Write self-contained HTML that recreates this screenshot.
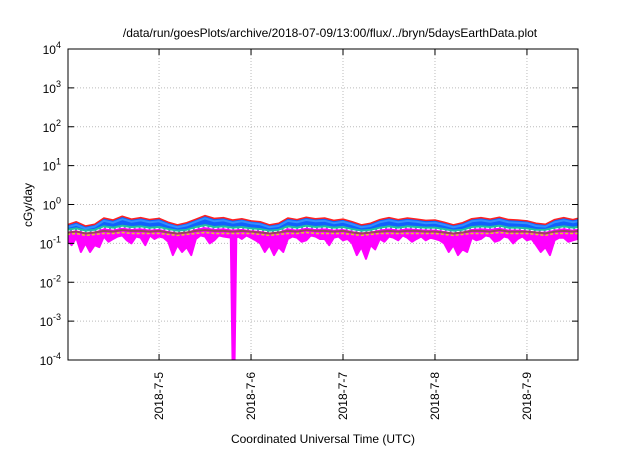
<!DOCTYPE html>
<html><head><meta charset="utf-8"><style>
body{margin:0;background:#fff;}
svg{font-family:"Liberation Sans",sans-serif;}
</style></head><body>
<svg id="chart" width="640" height="448" viewBox="0 0 640 448" xmlns="http://www.w3.org/2000/svg">
<text x="330" y="37" font-size="12" text-anchor="middle">/data/run/goesPlots/archive/2018-07-09/13:00/flux/../bryn/5daysEarthData.plot</text>
<g id="grid"></g>
<g id="series"></g>
<rect x="68" y="49" width="510" height="311" fill="none" stroke="#000" stroke-width="1"/>
<g id="axes"></g>
<text transform="translate(32,205) rotate(-90)" font-size="12" text-anchor="middle">cGy/day</text>
<text x="323" y="443" font-size="12" text-anchor="middle">Coordinated Universal Time (UTC)</text>
</svg>
<script>
const xTickVals=[5,6,7,8,9];
const xTickLabels=["2018-7-5","2018-7-6","2018-7-7","2018-7-8","2018-7-9"];
const yTickExps=[-4,-3,-2,-1,0,1,2,3,4];
const times=[4.0,4.1,4.2,4.3,4.4,4.5,4.6,4.7,4.8,4.9,5.0,5.1,5.2,5.3,5.4,5.5,5.6,5.7,5.8,5.9,6.0,6.1,6.2,6.3,6.4,6.5,6.6,6.7,6.8,6.9,7.0,7.1,7.2,7.3,7.4,7.5,7.6,7.7,7.8,7.9,8.0,8.1,8.2,8.3,8.4,8.5,8.6,8.7,8.8,8.9,9.0,9.1,9.2,9.3,9.4,9.5,9.55];
const redV=[0.30,0.36,0.28,0.31,0.45,0.40,0.50,0.42,0.46,0.41,0.44,0.35,0.30,0.34,0.42,0.52,0.44,0.46,0.40,0.43,0.38,0.36,0.30,0.33,0.45,0.41,0.47,0.43,0.45,0.39,0.42,0.36,0.30,0.33,0.41,0.46,0.41,0.45,0.42,0.39,0.40,0.35,0.30,0.34,0.43,0.46,0.42,0.47,0.41,0.40,0.38,0.33,0.31,0.41,0.46,0.41,0.44];
const blueV=[0.26,0.30,0.24,0.27,0.38,0.34,0.42,0.36,0.39,0.35,0.37,0.30,0.26,0.29,0.36,0.44,0.37,0.39,0.34,0.37,0.33,0.31,0.26,0.28,0.38,0.35,0.40,0.37,0.38,0.33,0.36,0.31,0.26,0.28,0.35,0.39,0.35,0.38,0.36,0.33,0.34,0.30,0.26,0.29,0.37,0.39,0.36,0.40,0.35,0.34,0.33,0.28,0.27,0.35,0.39,0.35,0.37];
const tealV=[0.22,0.24,0.21,0.22,0.27,0.25,0.28,0.26,0.27,0.25,0.26,0.23,0.21,0.22,0.26,0.29,0.26,0.27,0.25,0.26,0.24,0.23,0.21,0.22,0.27,0.25,0.28,0.26,0.27,0.25,0.26,0.23,0.21,0.22,0.25,0.27,0.25,0.27,0.26,0.25,0.25,0.23,0.21,0.22,0.26,0.27,0.26,0.28,0.25,0.25,0.24,0.22,0.22,0.25,0.27,0.25,0.26];
const brownV=[0.19,0.20,0.18,0.19,0.21,0.20,0.22,0.21,0.21,0.20,0.21,0.19,0.18,0.19,0.21,0.22,0.21,0.21,0.20,0.21,0.20,0.19,0.18,0.19,0.21,0.20,0.22,0.21,0.21,0.20,0.21,0.19,0.18,0.19,0.20,0.21,0.20,0.21,0.21,0.20,0.20,0.19,0.18,0.19,0.21,0.21,0.20,0.22,0.20,0.20,0.20,0.19,0.18,0.20,0.21,0.20,0.21];
const yellowV=[0.17,0.18,0.16,0.17,0.18,0.18,0.19,0.18,0.18,0.18,0.18,0.17,0.16,0.17,0.18,0.19,0.18,0.18,0.18,0.18,0.18,0.17,0.16,0.17,0.18,0.18,0.19,0.18,0.18,0.18,0.18,0.17,0.16,0.17,0.18,0.18,0.18,0.18,0.18,0.18,0.18,0.17,0.16,0.17,0.18,0.18,0.18,0.19,0.18,0.18,0.18,0.17,0.16,0.18,0.18,0.18,0.18];
const magT=[4.0,4.05,4.1,4.15,4.2,4.25,4.3,4.35,4.4,4.45,4.5,4.55,4.6,4.65,4.7,4.75,4.8,4.85,4.9,4.95,5.0,5.05,5.1,5.15,5.2,5.25,5.3,5.35,5.4,5.45,5.5,5.55,5.6,5.65,5.7,5.78,5.8,5.82,5.84,5.86,5.9,5.95,6.0,6.05,6.1,6.15,6.2,6.25,6.3,6.35,6.4,6.45,6.5,6.55,6.6,6.65,6.7,6.75,6.8,6.85,6.9,6.95,7.0,7.05,7.1,7.15,7.2,7.25,7.3,7.35,7.4,7.45,7.5,7.55,7.6,7.65,7.7,7.75,7.8,7.85,7.9,7.95,8.0,8.05,8.1,8.15,8.2,8.25,8.3,8.35,8.4,8.45,8.5,8.55,8.6,8.65,8.7,8.75,8.8,8.85,8.9,8.95,9.0,9.05,9.1,9.15,9.2,9.25,9.3,9.35,9.4,9.45,9.5,9.55];
const magV=[0.12,0.09,0.14,0.06,0.10,0.06,0.09,0.08,0.15,0.11,0.13,0.15,0.16,0.12,0.10,0.15,0.14,0.09,0.16,0.13,0.15,0.14,0.11,0.05,0.09,0.06,0.08,0.05,0.13,0.16,0.15,0.10,0.12,0.16,0.15,0.14,0.00005,0.00005,0.14,0.15,0.13,0.16,0.14,0.12,0.10,0.06,0.09,0.05,0.08,0.06,0.13,0.15,0.14,0.11,0.12,0.16,0.15,0.13,0.13,0.09,0.14,0.15,0.12,0.13,0.10,0.05,0.08,0.04,0.09,0.07,0.13,0.11,0.15,0.14,0.12,0.16,0.14,0.11,0.13,0.15,0.12,0.14,0.13,0.12,0.10,0.06,0.09,0.05,0.07,0.06,0.14,0.12,0.13,0.16,0.15,0.11,0.12,0.15,0.14,0.10,0.13,0.15,0.12,0.13,0.09,0.06,0.08,0.05,0.12,0.14,0.14,0.11,0.12,0.13];
const X0=68,X1=578,Y0=360,Y1=49,T0=4.01,T1=9.555,E0=-4,E1=4;
const NS="http://www.w3.org/2000/svg";
function xs(t){return X0+(t-T0)/(T1-T0)*(X1-X0);}
function ys(v){let e=Math.log10(v);e=Math.max(E0-0.2,Math.min(E1,e));return Y0-(e-E0)/(E1-E0)*(Y0-Y1);}
function mk(tag,attrs,parent){const e=document.createElementNS(NS,tag);for(const k in attrs)e.setAttribute(k,attrs[k]);parent.appendChild(e);return e;}
const grid=document.getElementById('grid'),axes=document.getElementById('axes'),ser=document.getElementById('series');
xTickVals.forEach((t,i)=>{const x=xs(t);
 const g=mk('line',{x1:x,x2:x,y1:Y1,y2:Y0,stroke:'#bbb','stroke-dasharray':'1,2'},grid);
 
 
 const tk=mk('path',{d:`M${x},${Y0}v-6M${x},${Y1}v6`,stroke:'#000'},axes);
 
 
 const tx=mk('text',{transform:`translate(${x+4},372) rotate(-90)`,'font-size':'12','text-anchor':'end'},axes);
 tx.textContent=xTickLabels[i];
 
 
});
yTickExps.forEach(e=>{const y=ys(Math.pow(10,e));
 if(e>E0&&e<E1){const g=mk('line',{x1:X0,x2:X1,y1:y,y2:y,stroke:'#bbb','stroke-dasharray':'1,2'},grid);
 
 }
 const tk=mk('path',{d:`M${X0},${y}h6M${X1},${y}h-6`,stroke:'#000'},axes);
 
 
 const tx=mk('text',{x:X0-7,y:y+5,'font-size':'12','text-anchor':'end'},axes);
 
 
 const b=mk('tspan',{},tx);b.textContent='10';
 const s=mk('tspan',{dy:'-6','font-size':'9'},tx);s.textContent=String(e);
});
const clip=mk('clipPath',{id:'pc'},mk('defs',{},ser));mk('rect',{x:X0,y:Y1,width:X1-X0,height:Y0-Y1},clip);
function line(T,V,col,w,name,dash){const p=mk('polyline',{points:T.map((t,i)=>xs(t)+','+ys(V[i])).join(' '),fill:'none',stroke:col,'stroke-width':w,'clip-path':'url(#pc)','stroke-linejoin':'round'},ser);
 if(dash)p.setAttribute('stroke-dasharray',dash);
 
 }
function band(TU,VU,TL,VL,col,name){
 const pts=TU.map((t,i)=>xs(t)+','+ys(VU[i])).concat(TL.map((t,i)=>xs(t)+','+ys(VL[i])).reverse());
 const p=mk('polygon',{points:pts.join(' '),fill:col,stroke:'none','clip-path':'url(#pc)'},ser);
 
 }
band(times,redV,times,tealV,'#1060ff','band-blue');
band(times,tealV,magT,magV,'#ff00ff','band-magenta');
line(times,redV,'#ff2020',1.5,'series-red');
line(times,blueV,'#3090ff',2,'series-blue');
line(times,tealV,'#20c0a0',2.5,'series-teal');
line(times,tealV.map(v=>v*0.93),'#ffffff',1,'series-white','3,2');
line(times,brownV,'#a04060',2,'series-brown');
line(times,yellowV,'#e0d020',1.5,'series-yellow','3,2');
line(magT,magV,'#ff00ff',2,'series-magenta');
</script>
</body></html>
